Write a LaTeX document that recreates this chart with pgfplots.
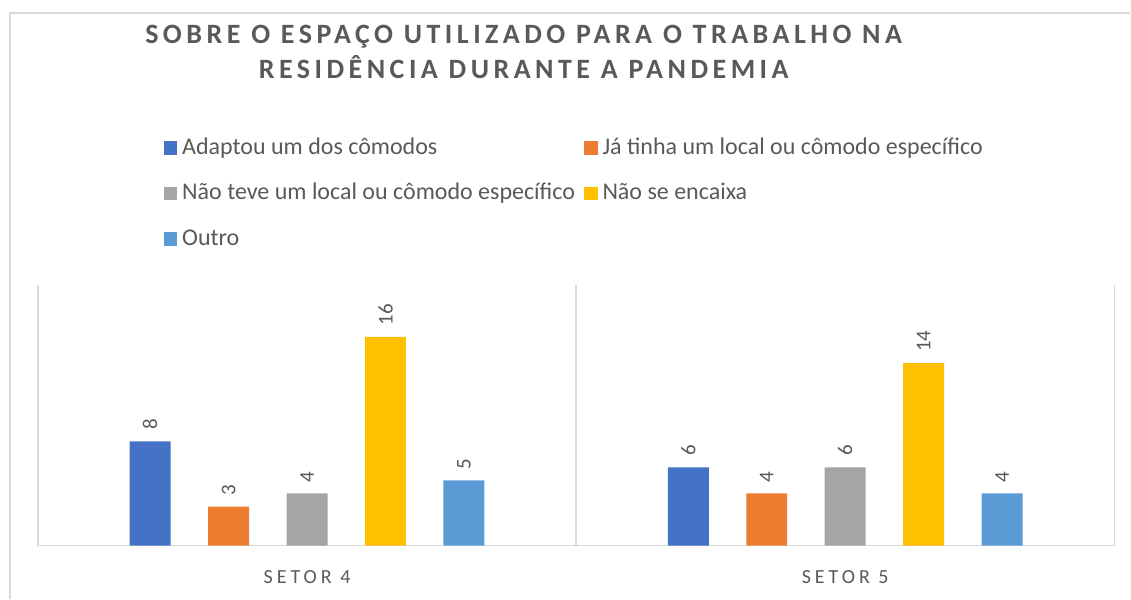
\documentclass[border=0pt]{standalone}
\usepackage{fontspec}
\setmainfont{Carlito}
\newfontfamily\titlefont[LetterSpace=16]{Carlito}
\newfontfamily\catfont[LetterSpace=20]{Carlito}
\usepackage{pgfplots}
\pgfplotsset{compat=1.18}

\definecolor{cA}{HTML}{4472C4}
\definecolor{cB}{HTML}{ED7D31}
\definecolor{cC}{HTML}{A5A5A5}
\definecolor{cD}{HTML}{FFC000}
\definecolor{cE}{HTML}{5B9BD5}
\definecolor{txt}{HTML}{595959}
\definecolor{gridc}{HTML}{D9D9D9}

\begin{document}
\begin{tikzpicture}
\path (0,0) rectangle (565.5pt,299.5pt);
\draw[gridc, line width=0.75pt] (5pt,0) -- (5pt,293pt) -- (565.5pt,293pt);
\begin{axis}[
  at={(19pt,26.5pt)}, anchor=south west,
  scale only axis,
  width=538.5pt, height=130.5pt,
  xmin=-0.5, xmax=1.5, ymin=0, ymax=20,
  /pgf/number format/assume math mode=true,
  axis y line=none,
  axis x line*=bottom,
  axis line style={draw=gridc, line width=0.75pt},
  xtick={0,1},
  xticklabels={SETOR 4, SETOR 5},
  major tick length=0pt,
  xticklabel style={font=\catfont\fontsize{10}{12}\selectfont, text=txt, anchor=center, yshift=-15.5pt},
  extra x ticks={-0.5,0.5,1.5},
  extra x tick labels={},
  extra x tick style={grid=major, major grid style={draw=gridc, line width=0.75pt}},
  ybar, bar width=0.0761,
  every axis plot/.append style={draw=none},
  nodes near coords,
  nodes near coords style={font=\fontsize{10.5}{12.5}\selectfont, text=txt, rotate=90, anchor=west, inner sep=0pt, xshift=5.5pt},
  title={SOBRE O ESPAÇO UTILIZADO PARA O TRABALHO NA\\RESIDÊNCIA DURANTE A PANDEMIA},
  title style={font=\titlefont\bfseries\fontsize{14}{17.5}\selectfont, text=txt, align=center, at={(axis description cs:0.4513,1.845)}, anchor=center},
  legend columns=2,
  legend cell align=left,
  legend image code/.code={\fill[#1] (0pt,-3.375pt) rectangle (6.75pt,3.375pt);},
  legend style={at={(axis description cs:0.1109,1.5865)}, anchor=north west, draw=none, fill=none,
    font=\fontsize{12}{14}\selectfont, text=txt,
    nodes={inner sep=0pt, text height=9pt, text depth=3pt},
    row sep=10.75pt,
    /tikz/every odd column/.append style={column sep=2.5pt},
    /tikz/every even column/.append style={column sep=4.5pt}},
]
\addplot[fill=cA, bar shift=-0.2916] coordinates {(0,8) (1,6)};
\addplot[fill=cB, bar shift=-0.1458] coordinates {(0,3) (1,4)};
\addplot[fill=cC, bar shift=0] coordinates {(0,4) (1,6)};
\addplot[fill=cD, bar shift=0.1458] coordinates {(0,16) (1,14)};
\addplot[fill=cE, bar shift=0.2916] coordinates {(0,5) (1,4)};
\legend{Adaptou um dos cômodos, Já tinha um local ou cômodo específico, Não teve um local ou cômodo específico, Não se encaixa, Outro}
\end{axis}
\end{tikzpicture}
\end{document}
